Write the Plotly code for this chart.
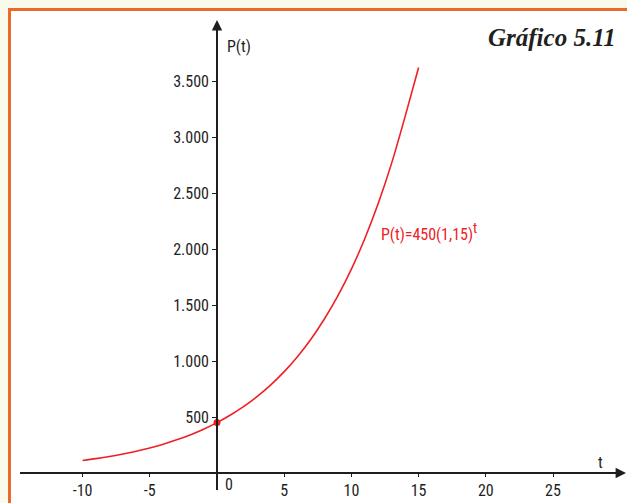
import plotly.graph_objects as go

# Data
t_vals = [-10, -9, -8, -7, -6, -5, -4, -3, -2, -1, 0, 1, 2, 3, 4, 5, 6, 7, 8, 9, 10, 11, 12, 13, 14, 15]
p_vals = [111, 128, 147, 169, 195, 224, 257, 296, 340, 391, 450, 518, 595, 684, 787, 905,
          1041, 1197, 1377, 1583, 1820, 2094, 2408, 2769, 3184, 3620]
x_ticks = [-10, -5, 5, 10, 15, 20, 25]
x_ticktext = ["-10", "-5", "5", "10", "15", "20", "25"]
y_ticks = [500, 1000, 1500, 2000, 2500, 3000, 3500]
y_ticktext = ["500", "1.000", "1.500", "2.000", "2.500", "3.000", "3.500"]
point_t = [0]
point_p = [450]

W, H = 627, 503
# pixel calibration of the axes
x0_px, xpu = 217, 13.44      # pixel of t=0, pixels per unit
y0_px, ypu = 473, 0.112      # pixel of P=0, pixels per unit
xl_px, xr_px = 20, 620
yt_px, yb_px = 25, 490

xrange = [(xl_px - x0_px) / xpu, (xr_px - x0_px) / xpu]
yrange = [(y0_px - yb_px) / ypu, (y0_px - yt_px) / ypu]

FONT = "Liberation Sans Narrow, Roboto Condensed, Arial Narrow, Liberation Sans, sans-serif"
AX = "#1e1e1e"
RED = "#ee2024"
ORANGE = "#ea6a2a"

fig = go.Figure()
fig.add_trace(go.Scatter(x=t_vals, y=p_vals, mode="lines", line=dict(color=RED, width=1.6, shape="spline"),
                         hoverinfo="skip", showlegend=False))
fig.add_trace(go.Scatter(x=point_t, y=point_p, mode="markers", marker=dict(color=RED, size=7),
                         hoverinfo="skip", showlegend=False))

fig.update_layout(
    width=W, height=H,
    margin=dict(l=0, r=0, t=0, b=0),
    paper_bgcolor="#fafaec",
    plot_bgcolor="rgba(0,0,0,0)",
    xaxis=dict(domain=[xl_px / W, xr_px / W], range=xrange, anchor="free", position=(H - y0_px) / H,
               showgrid=False, zeroline=False, showline=True, linecolor=AX, linewidth=1.6,
               tickvals=x_ticks, ticktext=x_ticktext, ticks="outside", ticklen=3, tickcolor=AX,
               tickfont=dict(family=FONT, size=16, color=AX), fixedrange=True),
    yaxis=dict(domain=[(H - yb_px) / H, (H - yt_px) / H], range=yrange, anchor="free", position=x0_px / W,
               showgrid=False, zeroline=False, showline=True, linecolor=AX, linewidth=1.6,
               tickvals=y_ticks, ticktext=y_ticktext, ticks="outside", ticklen=4, tickcolor=AX,
               tickfont=dict(family=FONT, size=16, color=AX), fixedrange=True),
    shapes=[
        dict(type="rect", xref="paper", yref="paper", x0=9.5 / W, x1=1.05, y0=-0.05, y1=(H - 9.5) / H,
             line=dict(color=ORANGE, width=3), fillcolor="white", layer="below"),
    ],
    annotations=[
        dict(xref="paper", yref="paper", x=x0_px / W, y=(H - 20) / H, ax=0, ay=22, text="",
             showarrow=True, arrowhead=2, arrowsize=1.3, arrowwidth=1.6, arrowcolor=AX),
        dict(xref="paper", yref="paper", x=626 / W, y=(H - y0_px) / H, ax=-22, ay=0, text="",
             showarrow=True, arrowhead=2, arrowsize=1.3, arrowwidth=1.6, arrowcolor=AX),
        dict(xref="paper", yref="paper", x=225 / W, y=(H - 47) / H, text="P(t)", showarrow=False,
             xanchor="left", yanchor="middle", font=dict(family=FONT, size=16, color=AX)),
        dict(xref="paper", yref="paper", x=600 / W, y=(H - 462) / H, text="t", showarrow=False,
             xanchor="center", yanchor="middle", font=dict(family=FONT, size=16, color=AX)),
        dict(xref="paper", yref="paper", x=229 / W, y=(H - 484) / H, text="0", showarrow=False,
             xanchor="center", yanchor="middle", font=dict(family=FONT, size=16, color=AX)),
        dict(xref="paper", yref="paper", x=379 / W, y=(H - 232) / H,
             text="P(t)=450(1,15)<sup><span style='font-size:14px'>t</span></sup>",
             showarrow=False, xanchor="left", yanchor="middle", font=dict(family=FONT, size=16, color=RED)),
        dict(xref="paper", yref="paper", x=618 / W, y=(H - 37) / H, text="<b><i>Gráfico 5.11</i></b>",
             showarrow=False, xanchor="right", yanchor="middle",
             font=dict(family="Liberation Serif, DejaVu Serif, serif", size=25, color="#231f20")),
    ],
)

fig.write_html("out.html", config={"displayModeBar": False},
               post_script="document.body.style.margin='0';document.body.style.overflow='hidden';")
